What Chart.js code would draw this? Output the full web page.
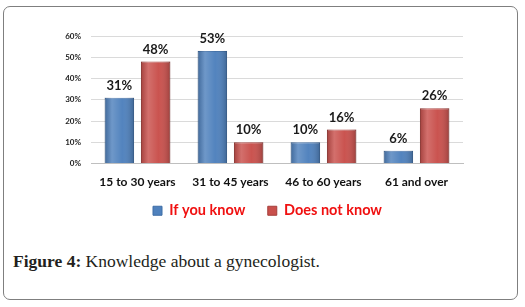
<!DOCTYPE html>
<html><head><meta charset="utf-8">
<script src="https://cdn.jsdelivr.net/npm/chart.js@4"></script>
<style>
html,body{margin:0;padding:0;background:#fff;width:525px;height:307px;overflow:hidden;}
#frame{position:absolute;left:3px;top:6px;width:515px;height:294px;border:1.5px solid #7f7f7f;border-radius:7px;box-sizing:border-box;}
#wrap{position:absolute;left:0;top:0;width:525px;height:240px;}
#caption{position:absolute;left:13px;top:251px;font-family:"Liberation Serif","DejaVu Serif",serif;font-size:17.5px;color:#231f20;white-space:nowrap;}
</style></head>
<body>
<div id="frame"></div>
<div id="wrap"><canvas id="c" width="525" height="240"></canvas></div>
<div id="caption"><b>Figure 4:</b> Knowledge about a gynecologist.</div>
<script>
const categories = ["15 to 30 years", "31 to 45 years", "46 to 60 years", "61 and over"];
const seriesNames = ["If you know", "Does not know"];
const knowValues = [31, 53, 10, 6];
const notKnowValues = [48, 10, 16, 26];
const yTicks = [0, 10, 20, 30, 40, 50, 60];

const FONT = "Lato, 'Open Sans', sans-serif";

const shadePlugin = {
  id: 'shade',
  afterLayout(chart) {
    if (chart.legend) { chart.legend.left += 6; chart.legend.right += 6; }
  },
  afterDatasetsDraw(chart) {
    const ctx = chart.ctx;
    chart.data.datasets.forEach((ds, i) => {
      const meta = chart.getDatasetMeta(i);
      meta.data.forEach((el, j) => {
        const l = el.x - el.width / 2, r = el.x + el.width / 2;
        const t = el.y, b = el.base;
        const g = ctx.createLinearGradient(l, 0, r, 0);
        g.addColorStop(0, 'rgba(0,0,0,0.18)');
        g.addColorStop(0.25, 'rgba(255,255,255,0.18)');
        g.addColorStop(0.6, 'rgba(255,255,255,0.02)');
        g.addColorStop(1, 'rgba(0,0,0,0.22)');
        ctx.save();
        ctx.fillStyle = g;
        ctx.fillRect(l, t, r - l, b - t);
        ctx.restore();
        ctx.save();
        ctx.font = "bold 13px " + FONT;
        ctx.fillStyle = '#1a1a1a';
        ctx.textAlign = 'center';
        ctx.textBaseline = 'middle';
        ctx.fillText(ds.data[j] + '%', el.x, el.y - 12);
        ctx.restore();
      });
    });
  }
};

new Chart(document.getElementById('c'), {
  type: 'bar',
  data: {
    labels: categories,
    datasets: [
      { label: seriesNames[0], data: knowValues, backgroundColor: '#4f81bd', borderColor: '#3f6ea6', borderWidth: 1,
        categoryPercentage: 0.78, barPercentage: 0.81 },
      { label: seriesNames[1], data: notKnowValues, backgroundColor: '#c9504c', borderColor: '#a63f3b', borderWidth: 1,
        categoryPercentage: 0.78, barPercentage: 0.81 }
    ]
  },
  options: {
    responsive: false,
    animation: false,
    devicePixelRatio: 1,
    layout: { padding: { left: 60, right: 62, top: 36, bottom: 12 } },
    plugins: {
      tooltip: { enabled: false },
      legend: {
        position: 'bottom',
        labels: {
          color: '#f01010',
          font: { family: FONT, size: 14.5, weight: 'bold' },
          boxWidth: 9, boxHeight: 9, padding: 8,
          generateLabels(chart) {
            const items = Chart.defaults.plugins.legend.labels.generateLabels(chart);
            items.forEach(it => { it.fontColor = '#f01010'; });
            if (items.length) items[0].text = items[0].text + '\u2002\u2002';
            return items;
          }
        }
      }
    },
    scales: {
      x: {
        grid: { display: false },
        border: { color: '#bfbfbf' },
        ticks: { color: '#111', font: { family: FONT, size: 12, weight: 'bold' }, padding: 3 },
        afterFit(s) { s.height = 32; }
      },
      y: {
        min: 0, max: 60,
        afterBuildTicks(s) { s.ticks = yTicks.map(v => ({ value: v })); },
        grid: { color: '#dadada', drawTicks: false },
        border: { display: false },
        ticks: { color: '#222', font: { family: FONT, size: 8, weight: 'bold' }, padding: 10, callback: v => v + '%' },
        afterFit(s) { s.width = 31; }
      }
    }
  },
  plugins: [shadePlugin]
});
</script>
</body></html>
